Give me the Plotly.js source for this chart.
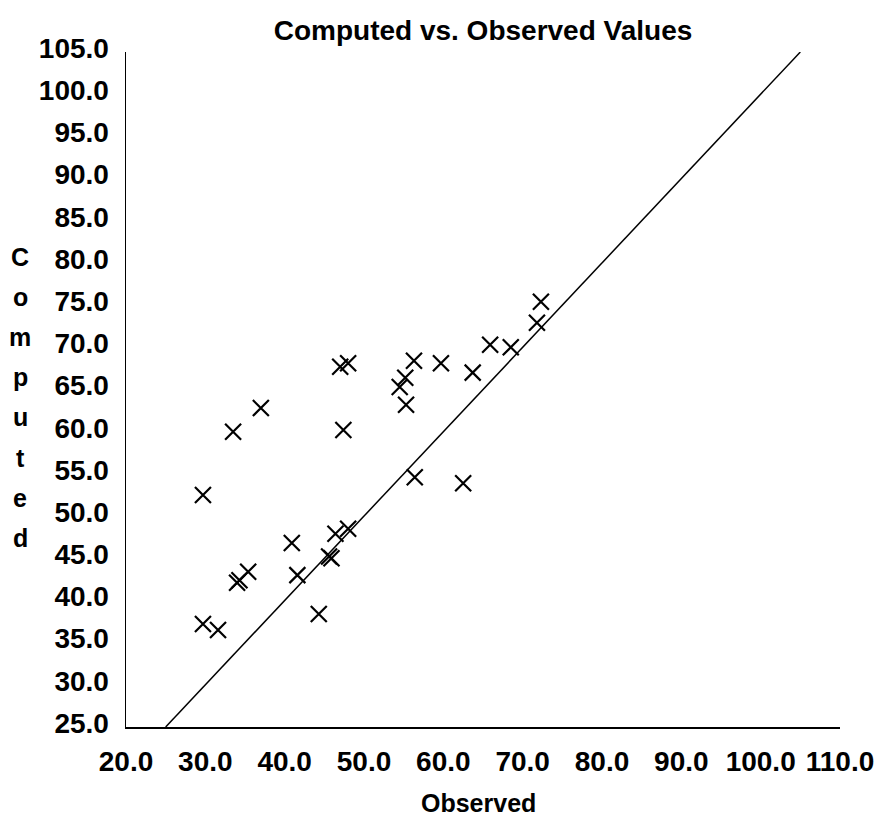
<!DOCTYPE html>
<html>
<head>
<meta charset="utf-8">
<script src="https://cdn.plot.ly/plotly-3.0.1.min.js"></script>
<style>
html,body{margin:0;padding:0;background:#fff;}
#chart{width:877px;height:826px;}
</style>
</head>
<body>
<div id="chart"></div>
<script>
// Observed vs Computed values
const observed = [37.0, 33.5, 47.4, 29.7, 56.4, 40.9, 46.4, 48.0, 45.6, 45.9,
                  35.4, 34.0, 34.3, 41.6, 44.3, 29.7, 31.6, 72.3, 71.8, 65.9,
                  68.5, 56.3, 59.7, 63.7, 47.0, 48.0, 55.2, 54.5, 55.3, 62.5];
const computed = [62.8, 60.0, 60.2, 52.5, 54.6, 46.8, 47.9, 48.5, 45.2, 45.0,
                  43.4, 42.1, 42.4, 43.0, 38.4, 37.2, 36.5, 75.4, 72.9, 70.3,
                  70.0, 68.4, 68.1, 67.0, 67.7, 68.1, 66.4, 65.3, 63.2, 53.9];
// 1:1 reference line endpoints
const lineX = [25, 105];
const lineY = [25, 105];
const titleText = "Computed vs. Observed Values";
const xTitle = "Observed";
const yTitleLetters = ["C", "o", "m", "p", "u", "t", "e", "d"];

const FONT = "Liberation Sans, Arial, sans-serif";
const plotTop = 52, plotBottom = 727;
const plotH = plotBottom - plotTop;

const annotations = yTitleLetters.map((ch, i) => ({
  text: ch,
  xref: "paper", yref: "paper",
  x: (20 - 126) / 714,
  y: (plotBottom - (257 + i * 40.1)) / plotH,
  xanchor: "center", yanchor: "middle",
  showarrow: false,
  font: {family: FONT, size: 25, color: "#000", weight: "bold"}
}));
annotations.push({
  text: xTitle,
  xref: "paper", yref: "paper",
  x: (478 - 126) / 714,
  y: (plotBottom - 803) / plotH,
  xanchor: "center", yanchor: "middle",
  showarrow: false,
  font: {family: FONT, size: 25, color: "#000", weight: "bold"}
});

const traces = [
  {
    x: lineX, y: lineY, type: "scatter", mode: "lines",
    line: {color: "#000", width: 1.5},
    hoverinfo: "skip", showlegend: false
  },
  {
    x: observed, y: computed, type: "scatter", mode: "markers",
    marker: {symbol: "x-thin-open", size: 16, color: "#000", line: {color: "#000", width: 2.2}},
    showlegend: false
  }
];

const layout = {
  width: 877, height: 826,
  paper_bgcolor: "#fff", plot_bgcolor: "rgba(0,0,0,0)",
  margin: {l: 126, r: 37, t: plotTop, b: 826 - plotBottom, pad: 0},
  title: {
    text: titleText,
    xref: "paper", x: 0.5, xanchor: "center",
    yref: "container", y: 1 - 30 / 826, yanchor: "middle",
    font: {family: FONT, size: 28, color: "#000", weight: "bold"}
  },
  xaxis: {
    range: [20, 110], dtick: 10, tick0: 20, tickformat: ".1f",
    showgrid: false, zeroline: false, showline: true, linecolor: "#000", linewidth: 1.5,
    ticks: "", ticklabelstandoff: 9,
    tickfont: {family: FONT, size: 28, color: "#000", weight: "bold"},
    fixedrange: true
  },
  yaxis: {
    range: [25, 105], dtick: 5, tick0: 25, tickformat: ".1f",
    showgrid: false, zeroline: false, showline: true, linecolor: "#000", linewidth: 1.5,
    ticks: "", ticklabelstandoff: 10, ticklabelshift: -4,
    tickfont: {family: FONT, size: 28, color: "#000", weight: "bold"},
    fixedrange: true
  },
  annotations: annotations,
  showlegend: false
};

Plotly.newPlot("chart", traces, layout, {displayModeBar: false, staticPlot: true});
</script>
</body>
</html>
